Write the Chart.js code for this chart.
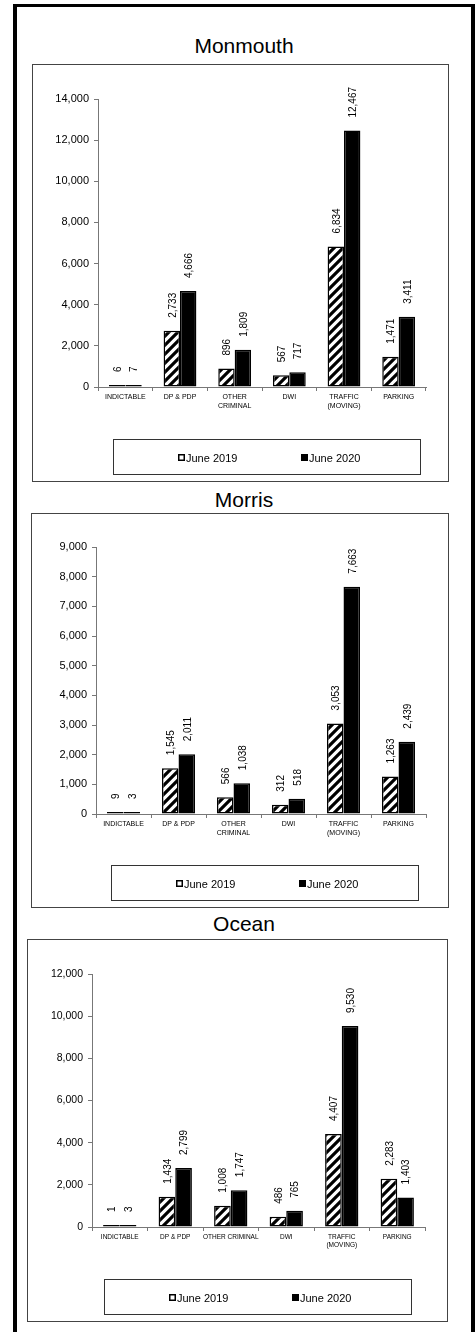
<!DOCTYPE html>
<html>
<head>
<meta charset="utf-8">
<title>June 2019 vs June 2020</title>
<script src="https://cdn.jsdelivr.net/npm/chart.js@4"></script>
<style>
  body { margin: 0; background: #fff; width: 476px; height: 1332px; position: relative; overflow: hidden; }
  #frame { position: absolute; left: 13px; top: 4px; width: 462px; height: 1340px; box-sizing: border-box;
           border: 4px solid #000; border-top-width: 3px; }
  .title { position: absolute; left: 13px; width: 462px; height: 24px; line-height: 24px; text-align: center;
           font: 21px 'Liberation Sans', Arial, sans-serif; color: #000; }
  .box { position: absolute; box-sizing: border-box; border: 1px solid #444; }
  canvas { position: absolute; }
</style>
</head>
<body>
<div id="frame"></div>

<div class="title" style="top:34px">Monmouth</div>
<div class="box" style="left:32px;top:64px;width:417px;height:418px"></div>
<canvas id="monmouthChart" style="left:32px;top:64px" width="417" height="418"></canvas>

<div class="title" style="top:488px">Morris</div>
<div class="box" style="left:31px;top:513px;width:418px;height:395px"></div>
<canvas id="morrisChart" style="left:31px;top:513px" width="418" height="395"></canvas>

<div class="title" style="top:912px">Ocean</div>
<div class="box" style="left:27px;top:939px;width:421px;height:383px"></div>
<canvas id="oceanChart" style="left:27px;top:939px" width="421" height="383"></canvas>

<script>
'use strict';

// categories (Ocean's sheet has OTHER CRIMINAL on one line)
const categories = ['INDICTABLE', 'DP & PDP', ['OTHER', 'CRIMINAL'], 'DWI', ['TRAFFIC', '(MOVING)'], 'PARKING'];
const oceanCategories = ['INDICTABLE', 'DP & PDP', 'OTHER CRIMINAL', 'DWI', ['TRAFFIC', '(MOVING)'], 'PARKING'];
const seriesLabels = ['June 2019', 'June 2020'];

const monmouth2019 = [6, 2733, 896, 567, 6834, 1471];
const monmouth2020 = [7, 4666, 1809, 717, 12467, 3411];

const morris2019 = [9, 1545, 566, 312, 3053, 1263];
const morris2020 = [3, 2011, 1038, 518, 7663, 2439];

const ocean2019 = [1, 1434, 1008, 486, 4407, 2283];
const ocean2020 = [3, 2799, 1747, 765, 9530, 1403];

// y axis ranges: [max, step]
const monmouthAxis = [14000, 2000];
const morrisAxis = [9000, 1000];
const oceanAxis = [12000, 2000];

Chart.defaults.font.family = "'Liberation Sans', Arial, sans-serif";
Chart.defaults.color = '#000';

// wide diagonal stripes for the 2019 bars
function makeHatch() {
  const size = 9;
  const c = document.createElement('canvas');
  c.width = size;
  c.height = size;
  const g = c.getContext('2d');
  g.fillStyle = '#fff';
  g.fillRect(0, 0, size, size);
  g.strokeStyle = '#000';
  g.lineWidth = 3.2;
  g.beginPath();
  g.moveTo(-1, size + 1); g.lineTo(size + 1, -1);
  g.moveTo(-size / 2 - 1, size / 2 + 1); g.lineTo(size / 2 + 1, -size / 2 - 1);
  g.moveTo(size / 2 - 1, size * 1.5 + 1); g.lineTo(size * 1.5 + 1, size / 2 - 1);
  g.stroke();
  return g.createPattern(c, 'repeat');
}

const hatch = makeHatch();

function fmt(v) {
  return Number(v).toLocaleString('en-US');
}

// rotated value labels above every bar
const barValues = {
  id: 'barValues',
  afterDatasetsDraw(chart) {
    const ctx = chart.ctx;
    ctx.save();
    ctx.fillStyle = '#000';
    ctx.font = "10px 'Liberation Sans', Arial, sans-serif";
    ctx.textAlign = 'left';
    ctx.textBaseline = 'middle';
    chart.data.datasets.forEach((ds, i) => {
      chart.getDatasetMeta(i).data.forEach((bar, j) => {
        ctx.save();
        ctx.translate(bar.x + 1, bar.y - 13);
        ctx.rotate(-Math.PI / 2);
        ctx.fillText(fmt(ds.data[j]), 0, 0);
        ctx.restore();
      });
    });
    ctx.restore();
  }
};

// legend drawn inside a framed box under the plot
const boxLegend = {
  id: 'boxLegend',
  afterDraw(chart, args, opts) {
    const ctx = chart.ctx;
    const left = chart.chartArea.left + opts.shift;
    const width = 307;
    const height = 35;
    const top = chart.height - 8 - height;
    ctx.save();
    ctx.strokeStyle = '#333';
    ctx.lineWidth = 1;
    ctx.strokeRect(Math.round(left) + 0.5, Math.round(top) + 0.5, width, height);
    const mid = Math.round(top + height / 2) + 0.5;
    const spots = [65, 188];
    ctx.font = "11px 'Liberation Sans', Arial, sans-serif";
    ctx.textBaseline = 'middle';
    ctx.textAlign = 'left';
    chart.data.datasets.forEach((ds, i) => {
      const x = Math.round(left + spots[i]);
      ctx.fillStyle = i === 0 ? '#fff' : '#000';
      ctx.fillRect(x, mid - 3.5, 7, 7);
      ctx.strokeStyle = '#000';
      ctx.lineWidth = 1.5;
      ctx.strokeRect(x + 0.75, mid - 2.75, 5.5, 5.5);
      ctx.fillStyle = '#000';
      ctx.fillText(ds.label, x + 8, mid + 1);
    });
    ctx.restore();
  }
};

function makeChart(canvasId, cats, data2019, data2020, axis, sizes) {
  const ctx = document.getElementById(canvasId).getContext('2d');
  return new Chart(ctx, {
    type: 'bar',
    data: {
      labels: cats,
      datasets: [{
        label: seriesLabels[0],
        data: data2019,
        backgroundColor: hatch,
        borderColor: '#000',
        borderWidth: 1.5,
        borderSkipped: false,
        minBarLength: 2
      }, {
        label: seriesLabels[1],
        data: data2020,
        backgroundColor: '#000',
        borderColor: '#000',
        borderWidth: 1.5,
        borderSkipped: false,
        minBarLength: 2
      }]
    },
    options: {
      responsive: false,
      animation: false,
      devicePixelRatio: 1,
      categoryPercentage: 0.6,
      barPercentage: 1,
      layout: {
        padding: { left: 0, top: sizes.top, right: sizes.right, bottom: 0 }
      },
      plugins: {
        legend: { display: false },
        tooltip: { enabled: false },
        boxLegend: { shift: sizes.shift }
      },
      scales: {
        x: {
          afterFit: (scale) => { scale.height = sizes.xHeight; },
          grid: { drawOnChartArea: false, drawTicks: true, tickLength: 4, color: '#777', offset: true },
          border: { display: true, color: '#777', width: 1 },
          ticks: {
            autoSkip: false,
            maxRotation: 0,
            padding: 2,
            font: { size: sizes.catFont, lineHeight: 1.25 }
          }
        },
        y: {
          min: 0,
          max: axis[0],
          afterFit: (scale) => { scale.width = sizes.yWidth; },
          grid: { drawOnChartArea: false, drawTicks: true, tickLength: 4, color: '#777' },
          border: { display: true, color: '#777', width: 1 },
          ticks: {
            stepSize: axis[1],
            padding: 5,
            font: { size: sizes.tickFont },
            callback: (v) => fmt(v)
          }
        }
      }
    },
    plugins: [barValues, boxLegend]
  });
}

makeChart('monmouthChart', categories, monmouth2019, monmouth2020, monmouthAxis,
  { top: 35, right: 23, xHeight: 95, yWidth: 66, shift: 15, catFont: 7, tickFont: 11 });

makeChart('morrisChart', categories, morris2019, morris2020, morrisAxis,
  { top: 34, right: 23, xHeight: 94, yWidth: 65, shift: 15, catFont: 7, tickFont: 11 });

makeChart('oceanChart', oceanCategories, ocean2019, ocean2020, oceanAxis,
  { top: 35, right: 23, xHeight: 95, yWidth: 65, shift: 12, catFont: 6.5, tickFont: 10.5 });
</script>
</body>
</html>
